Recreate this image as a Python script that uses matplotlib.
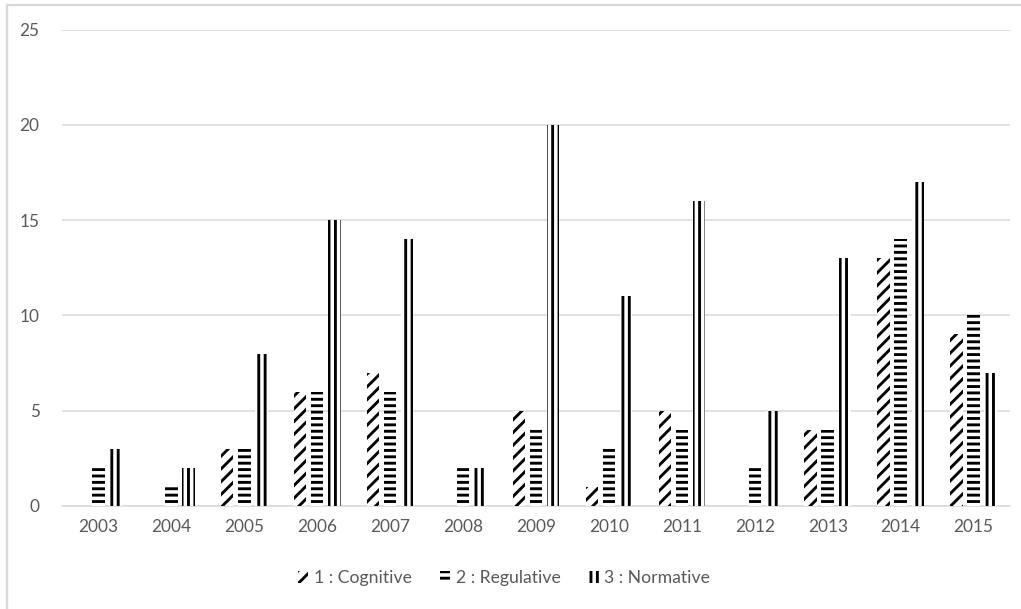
import matplotlib
matplotlib.use("Agg")
import matplotlib.pyplot as plt
from matplotlib.patches import Patch, Rectangle
import numpy as np

years = ["2003", "2004", "2005", "2006", "2007", "2008", "2009",
         "2010", "2011", "2012", "2013", "2014", "2015"]
cognitive = [0, 0, 3, 6, 7, 0, 5, 1, 5, 0, 4, 13, 9]
regulative = [2, 1, 3, 6, 6, 2, 4, 3, 4, 2, 4, 14, 10]
normative = [3, 2, 8, 15, 14, 2, 20, 11, 16, 5, 13, 17, 7]
series_labels = ["1 : Cognitive", "2 : Regulative", "3 : Normative"]

W, H, DPI = 1022, 609, 115
TEXT = "#595959"
GRID = "#d9d9d9"

plt.rcParams["font.family"] = ["Lato", "DejaVu Sans"]
# hatch line width is taken at draw time
plt.rcParams["hatch.linewidth"] = 1.8

fig = plt.figure(figsize=(W / DPI, H / DPI), dpi=DPI)
ax = fig.add_axes([62 / W, 103 / H, 948 / W, (506 - 29.5) / H])

x = np.arange(len(years))
width = 0.17
offset = 0.235
hatches = ["///", "---", "|||"]

for i, vals in enumerate([cognitive, regulative, normative]):
    ax.bar(x + (i - 1) * offset, vals, width, facecolor="white", edgecolor="black",
           linewidth=0, hatch=hatches[i], label=series_labels[i], zorder=3)

ax.set_xlim(-0.5, len(years) - 0.5)
ax.set_ylim(0, 25)
ax.set_yticks([0, 5, 10, 15, 20, 25])
ax.set_xticks(x)
ax.set_xticklabels(years)
ax.yaxis.grid(True, color=GRID, linewidth=1.0, zorder=0)
ax.set_axisbelow(True)
for s in ["top", "right", "left"]:
    ax.spines[s].set_visible(False)
ax.spines["bottom"].set_color(GRID)
ax.spines["bottom"].set_linewidth(1.0)
ax.tick_params(axis="both", length=0, labelsize=10.8, labelcolor=TEXT)
ax.tick_params(axis="x", pad=8)
ax.tick_params(axis="y", pad=14)

handles = [Patch(facecolor="white", edgecolor="black", linewidth=0,
                 hatch=hatches[i], label=series_labels[i]) for i in range(3)]

leg = fig.legend(handles=handles, loc="center", bbox_to_anchor=(504 / W, 1 - 578 / H),
                 ncol=3, frameon=False, fontsize=11.0, handlelength=0.6,
                 handleheight=0.7, handletextpad=0.3, columnspacing=1.6)
for t in leg.get_texts():
    t.set_color(TEXT)

# outer chart border (cropped at right/bottom in the reference)
fig.patches.append(Rectangle((7 / W, -0.05), 1.2, 1.05 - 5 / H,
                             transform=fig.transFigure, fill=False,
                             edgecolor=GRID, linewidth=1.5))

fig.savefig("out.png", dpi=DPI)
